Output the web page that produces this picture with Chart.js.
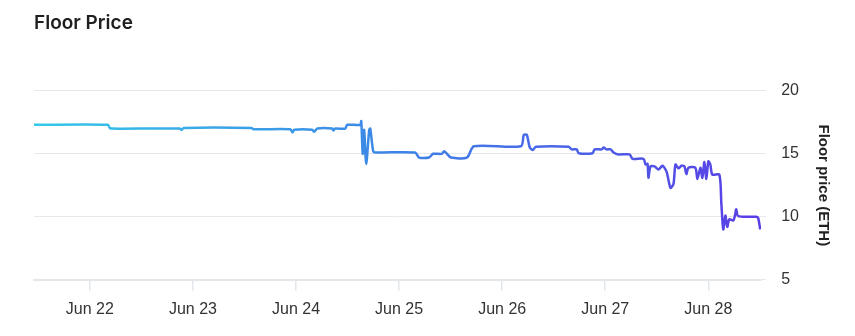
<!DOCTYPE html>
<html>
<head>
<meta charset="utf-8">
<script src="https://cdn.jsdelivr.net/npm/chart.js@4/dist/chart.umd.min.js"></script>
<style>
  html, body { margin: 0; padding: 0; background: #ffffff; }
  #wrap { position: relative; width: 855px; height: 336px; }
</style>
</head>
<body>
<div id="wrap"><canvas id="c" width="855" height="336"></canvas></div>
<script>
// Time positions in days of June (fractional)
const days = [
  21.458, 22.174, 22.194, 22.213, 22.871, 22.890, 22.910, 23.568, 23.587, 23.945,
  23.965, 23.984, 24.158, 24.177, 24.207, 24.352, 24.361, 24.381, 24.478, 24.497,
  24.623, 24.633, 24.647, 24.661, 24.681, 24.710, 24.720, 24.749, 24.768, 25.155,
  25.194, 25.290, 25.329, 25.416, 25.436, 25.465, 25.503, 25.658, 25.726, 26.181,
  26.210, 26.239, 26.268, 26.297, 26.326, 26.645, 26.674, 26.723, 26.742, 26.877,
  26.897, 26.965, 26.984, 27.013, 27.052, 27.081, 27.129, 27.236, 27.265, 27.371,
  27.391, 27.410, 27.419, 27.439, 27.478, 27.516, 27.555, 27.594, 27.633, 27.662,
  27.681, 27.710, 27.739, 27.768, 27.787, 27.807, 27.874, 27.894, 27.923, 27.942,
  27.962, 27.981, 28.000, 28.019, 28.039, 28.107, 28.126, 28.145, 28.165, 28.184,
  28.203, 28.242, 28.261, 28.271, 28.290, 28.465, 28.484, 28.503
];
// Floor price (ETH)
const floorPrice = [
  17.3, 17.3, 17.05, 17.0, 17.0, 16.9, 17.05, 17.05, 16.95, 16.95,
  16.7, 16.9, 16.9, 16.75, 17.0, 17.0, 16.85, 17.0, 17.0, 17.3,
  17.3, 17.6, 15.0, 16.9, 14.2, 16.9, 17.0, 15.2, 15.1, 15.1,
  14.7, 14.7, 15.0, 15.0, 15.2, 15.0, 14.7, 14.7, 15.6, 15.6,
  16.5, 16.5, 15.5, 15.3, 15.55, 15.55, 15.35, 15.35, 15.05, 15.05,
  15.35, 15.35, 15.5, 15.35, 15.35, 15.1, 14.95, 14.95, 14.6, 14.6,
  14.15, 14.2, 13.1, 14.0, 14.0, 13.75, 14.05, 13.6, 12.3, 12.6,
  14.15, 13.85, 14.05, 14.0, 13.4, 13.9, 13.9, 13.0, 13.9, 13.1,
  14.35, 13.0, 14.4, 14.15, 13.35, 13.35, 11.1, 9.0, 10.1, 9.2,
  9.8, 9.7, 10.2, 10.6, 10.05, 10.0, 9.9, 9.0
];
// X tick positions (day of June) and their labels
const xTickDays = [22, 23, 24, 25, 26, 27, 28];
const xTickLabels = ["Jun 22", "Jun 23", "Jun 24", "Jun 25", "Jun 26", "Jun 27", "Jun 28"];
const yTicks = [5, 10, 15, 20];

const points = days.map((d, i) => ({ x: d, y: floorPrice[i] }));

function lineGradient(ctx) {
  const chart = ctx.chart;
  const area = chart.chartArea;
  if (!area) return '#3f7fe8';
  const g = chart.ctx.createLinearGradient(area.left, 0, area.right, 0);
  g.addColorStop(0, '#35c8e8');
  g.addColorStop(0.5, '#3d84e6');
  g.addColorStop(1, '#5a3de6');
  return g;
}

new Chart(document.getElementById('c'), {
  type: 'line',
  data: {
    datasets: [{
      data: points,
      borderColor: lineGradient,
      borderWidth: 2.5,
      pointRadius: 0,
      tension: 0.25,
      fill: false
    }]
  },
  options: {
    responsive: false,
    animation: false,
    layout: { padding: { left: 34, right: 1, top: 0, bottom: 8 } },
    plugins: {
      legend: { display: false },
      tooltip: { enabled: false },
      title: {
        display: true,
        text: 'Floor Price',
        align: 'start',
        color: '#1f1f1f',
        font: { family: 'Inter, "Liberation Sans", Arial, sans-serif', size: 19, weight: '600' },
        padding: { top: 12, bottom: 56 }
      }
    },
    scales: {
      x: {
        type: 'linear',
        min: days[0],
        max: 28.513,
        afterBuildTicks: (axis) => { axis.ticks = xTickDays.map(v => ({ value: v })); },
        ticks: {
          autoSkip: false,
          maxRotation: 0,
          color: '#333333',
          padding: 9,
          font: { family: '"Liberation Sans", Arial, sans-serif', size: 16 },
          callback: (v) => { const i = xTickDays.indexOf(v); return i >= 0 ? xTickLabels[i] : ''; }
        },
        grid: {
          display: true,
          drawOnChartArea: false,
          drawTicks: true,
          tickLength: 11,
          color: '#e3e6ea',
          lineWidth: 1.5
        },
        border: { display: true, color: '#e3e6ea', width: 2 }
      },
      y: {
        position: 'right',
        min: 5,
        max: 20,
        afterBuildTicks: (axis) => { axis.ticks = yTicks.map(v => ({ value: v })); },
        ticks: {
          color: '#333333',
          padding: 15,
          font: { family: '"Liberation Sans", Arial, sans-serif', size: 16 }
        },
        grid: {
          color: '#e6e8eb',
          lineWidth: 1,
          drawTicks: true,
          tickLength: 5
        },
        border: { display: false },
        title: {
          display: true,
          text: 'Floor price (ETH)',
          color: '#222222',
          font: { family: '"Liberation Sans", Arial, sans-serif', size: 15, weight: 'bold' },
          padding: { top: 22, bottom: 0 }
        }
      }
    }
  }
});
</script>
</body>
</html>
